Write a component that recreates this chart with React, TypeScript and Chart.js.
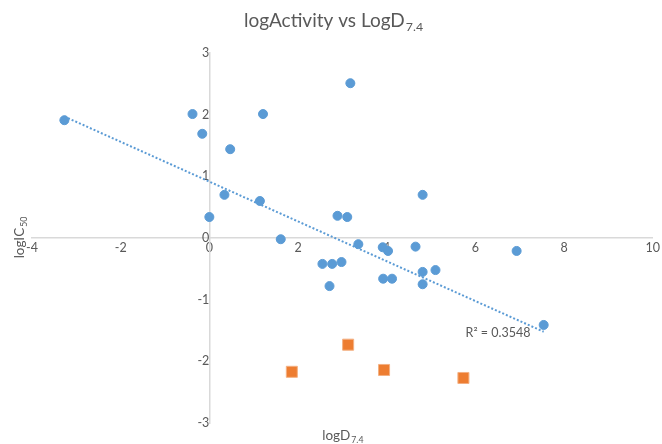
import React, { useEffect, useRef } from "react";
import { Chart, registerables } from "chart.js";
Chart.register(...registerables);

// logD7.4 / logIC50 measured compounds (blue circles)
const blueX = [-3.27, -0.38, -0.16, 0.47, 1.21, 3.18, 0.34, 1.14, 0.0, 1.61, 2.89, 3.11, 4.81, 3.36, 3.91, 4.03, 4.65, 6.93, 2.55, 2.77, 2.98, 2.71, 3.92, 4.12, 4.81, 5.1, 4.81, 7.54];
const blueY = [1.91, 2.01, 1.69, 1.44, 2.01, 2.51, 0.7, 0.6, 0.34, -0.02, 0.36, 0.34, 0.7, -0.1, -0.15, -0.21, -0.14, -0.21, -0.42, -0.42, -0.39, -0.78, -0.66, -0.66, -0.55, -0.52, -0.75, -1.41];

// second series (orange squares)
const orangeX = [1.86, 3.13, 3.94, 5.73];
const orangeY = [-2.17, -1.73, -2.14, -2.27];

// linear trendline end points
const trendX = [-3.27, 7.54];
const trendY = [1.97, -1.52];
const rSquaredLabel = "R² = 0.3548";

const xMin = -4, xMax = 10, xStep = 2;
const yMin = -3, yMax = 3, yStep = 1;

const FONT = "Lato, 'Liberation Sans', sans-serif";
const GREY = "#595959";

function drawSub(ctx: CanvasRenderingContext2D, main: string, sub: string, size: number, cx: number, cy: number) {
  ctx.font = `${size}px ${FONT}`;
  const w1 = ctx.measureText(main).width;
  ctx.font = `${size * 0.65}px ${FONT}`;
  const w2 = ctx.measureText(sub).width;
  const start = cx - (w1 + w2) / 2;
  ctx.textAlign = "left";
  ctx.textBaseline = "middle";
  ctx.font = `${size}px ${FONT}`;
  ctx.fillText(main, start, cy);
  ctx.font = `${size * 0.65}px ${FONT}`;
  ctx.fillText(sub, start + w1 + 1, cy + size * 0.3);
}

const textPlugin = {
  id: "texts",
  afterDraw(chart: any) {
    const ctx = chart.ctx as CanvasRenderingContext2D;
    const { chartArea, scales } = chart;
    ctx.save();
    ctx.fillStyle = GREY;
    drawSub(ctx, "logActivity vs LogD", "7.4", 19, 333, 21);
    drawSub(ctx, "logD", "7.4", 13.5, (chartArea.left + chartArea.right) / 2, 436);
    ctx.save();
    ctx.translate(20, (chartArea.top + chartArea.bottom) / 2);
    ctx.rotate(-Math.PI / 2);
    drawSub(ctx, "logIC", "50", 13.5, 0, 0);
    ctx.restore();
    ctx.font = `12.5px ${FONT}`;
    ctx.textAlign = "center";
    ctx.textBaseline = "middle";
    ctx.fillText(rSquaredLabel, scales.x.getPixelForValue(6.51), scales.y.getPixelForValue(-1.54));
    ctx.restore();
  },
};

export default function App() {
  const ref = useRef<HTMLCanvasElement>(null);
  useEffect(() => {
    document.body.style.margin = "0";
    const chart = new Chart(ref.current!, {
      type: "scatter",
      data: {
        datasets: [
          {
            label: "trend",
            data: trendX.map((x, i) => ({ x, y: trendY[i] })),
            showLine: true,
            borderColor: "#5b9bd5",
            borderWidth: 2,
            borderDash: [2, 2],
            pointRadius: 0,
            order: 3,
          },
          {
            label: "logIC50",
            data: blueX.map((x, i) => ({ x, y: blueY[i] })),
            backgroundColor: "#5b9bd5",
            borderColor: "#5b9bd5",
            borderWidth: 1,
            pointRadius: 4.5,
            pointStyle: "circle",
            order: 1,
          },
          {
            label: "other",
            data: orangeX.map((x, i) => ({ x, y: orangeY[i] })),
            backgroundColor: "#ed7d31",
            borderColor: "#f4b183",
            borderWidth: 1,
            pointRadius: 7.8,
            pointStyle: "rect",
            order: 2,
          },
        ],
      },
      options: {
        animation: false,
        responsive: true,
        maintainAspectRatio: false,
        layout: { padding: { left: 32, right: 7, top: 53, bottom: 21 } },
        plugins: { legend: { display: false }, tooltip: { enabled: false }, title: { display: false } },
        scales: {
          x: {
            type: "linear",
            position: { y: 0 } as any,
            min: xMin,
            max: xMax,
            ticks: { stepSize: xStep, color: GREY, font: { family: FONT, size: 12.5 }, padding: 2 },
            grid: { display: false, drawTicks: false },
            border: { display: true, color: "#d9d9d9", width: 1.5 },
          },
          y: {
            type: "linear",
            position: { x: 0 } as any,
            min: yMin,
            max: yMax,
            ticks: { stepSize: yStep, color: GREY, font: { family: FONT, size: 12.5 }, padding: 12 },
            grid: { display: false, drawTicks: false },
            border: { display: true, color: "#d9d9d9", width: 1.5 },
          },
        },
      },
      plugins: [textPlugin],
    });
    return () => chart.destroy();
  }, []);
  return (
    <div style={{ width: 662, height: 444, position: "relative", background: "#fff" }}>
      <canvas ref={ref} />
    </div>
  );
}
